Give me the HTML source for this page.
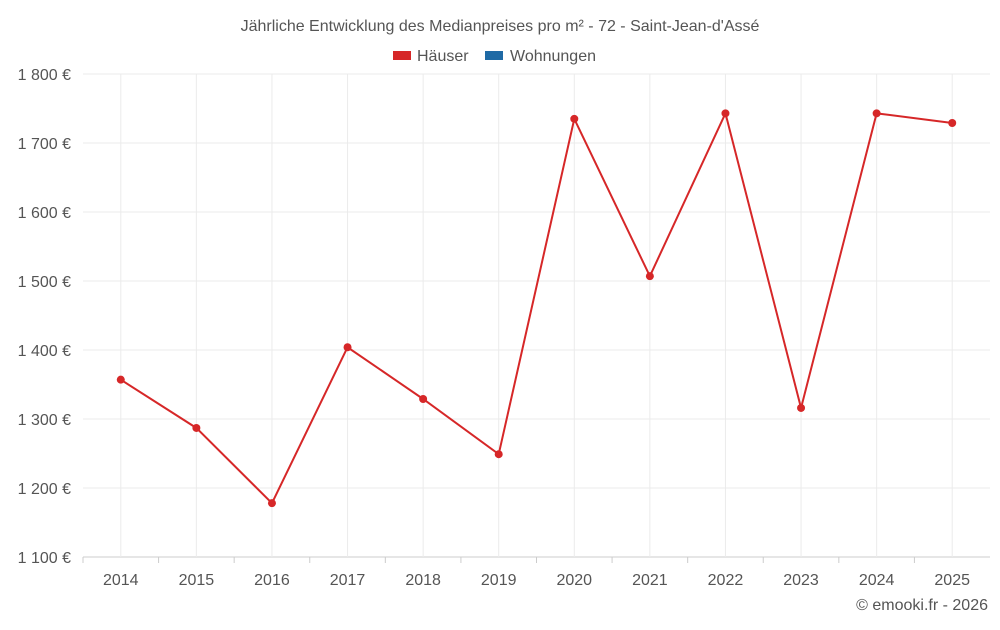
<!DOCTYPE html>
<html><head><meta charset="utf-8">
<style>
body{margin:0;background:#fff;font-family:"Liberation Sans",sans-serif;}
svg text{font-family:"Liberation Sans",sans-serif;fill:#555;}
</style></head>
<body>
<svg id="chart" width="1000" height="625">
<text x="500" y="31" text-anchor="middle" font-size="16">Jährliche Entwicklung des Medianpreises pro m² - 72 - Saint-Jean-d'Assé</text>
<g>
<g><rect x="393" y="51" width="18" height="9" fill="#d62728"/><text x="417" y="61" font-size="16">Häuser</text></g>
<g><rect x="485" y="51" width="18" height="9" fill="#1f6aa5"/><text x="510" y="61" font-size="16">Wohnungen</text></g>
</g>
<g id="grid"></g><g id="axes"></g><g id="series"></g>
<text x="988" y="610" text-anchor="end" font-size="16">© emooki.fr - 2026</text>
</svg>
<script>
const categories=["2014","2015","2016","2017","2018","2019","2020","2021","2022","2023","2024","2025"];
const haeuser=[1357,1287,1178,1404,1329,1249,1735,1507,1743,1316,1743,1729];
const yTicks=[1100,1200,1300,1400,1500,1600,1700,1800];
const yTickLabels=["1 100 €","1 200 €","1 300 €","1 400 €","1 500 €","1 600 €","1 700 €","1 800 €"];
const L=83,R=990,T=74,B=557,yMin=1100,yMax=1800;
const NS="http://www.w3.org/2000/svg";
const bw=(R-L)/categories.length;
function xs(i){return L+bw*(i+0.5);}
function ys(v){return B-(v-yMin)/(yMax-yMin)*(B-T);}
function mk(t,a,p){const e=document.createElementNS(NS,t);for(const k in a)e.setAttribute(k,a[k]);p.appendChild(e);return e;}
const g=document.getElementById('grid'),ax=document.getElementById('axes'),s=document.getElementById('series');
yTicks.forEach((v,i)=>{
 const l=mk('line',{x1:L,x2:R,y1:ys(v),y2:ys(v),stroke:i==0?'#ccc':'#ebebeb'},g);
 
 
 const t=mk('text',{x:71,y:ys(v)+6,'text-anchor':'end','font-size':16},ax);t.textContent=yTickLabels[i];
 
 
});
categories.forEach((c,i)=>{
 const l=mk('line',{x1:xs(i),x2:xs(i),y1:T,y2:B,stroke:'#ebebeb'},g);
 
 
 const k=mk('line',{x1:L+bw*i,x2:L+bw*i,y1:B,y2:B+6,stroke:'#ccc'},ax);
 
 
 const t=mk('text',{x:xs(i),y:585,'text-anchor':'middle','font-size':16},ax);t.textContent=c;
 
 
});
const p=mk('polyline',{points:haeuser.map((v,i)=>xs(i)+','+ys(v)).join(' '),fill:'none',stroke:'#d62728','stroke-width':2},s);


haeuser.forEach((v,i)=>{
 const c=mk('circle',{cx:xs(i),cy:ys(v),r:4,fill:'#d62728'},s);
 
 
});
</script>
</body></html>
